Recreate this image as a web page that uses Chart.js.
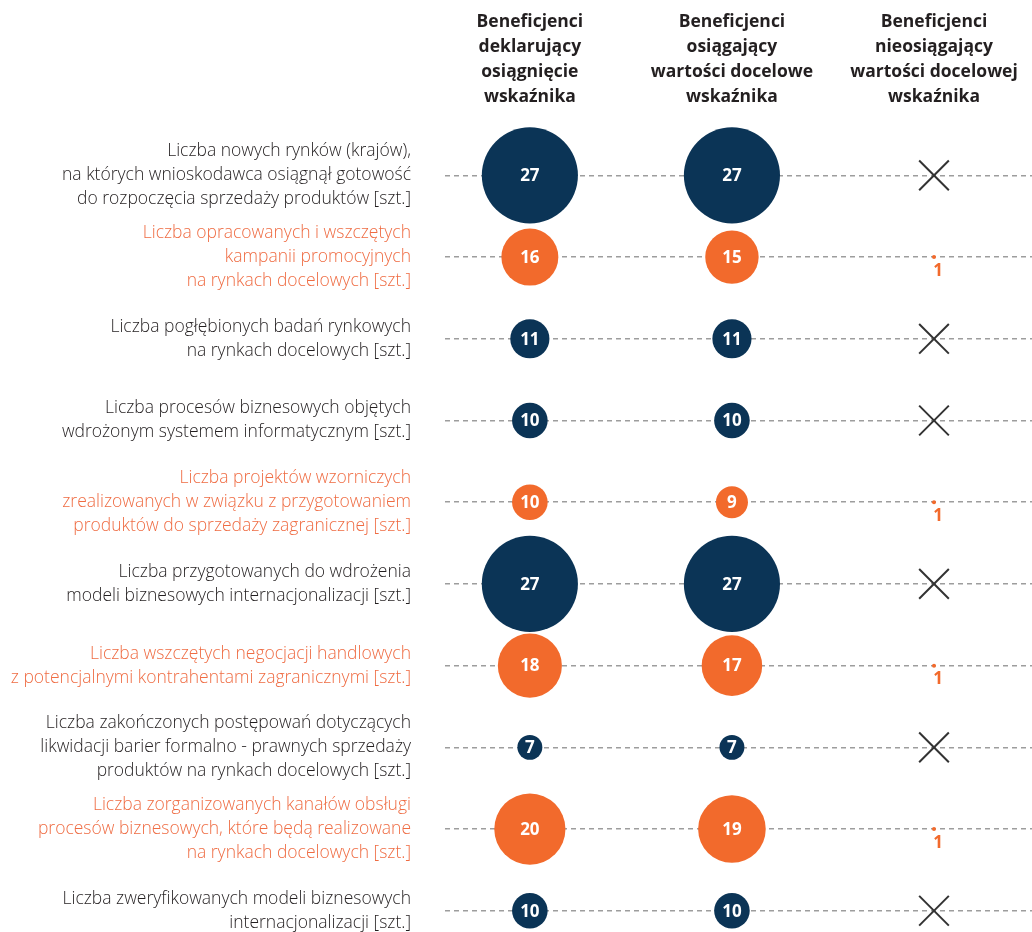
<!DOCTYPE html>
<html>
<head>
<meta charset="utf-8">
<script src="https://cdn.jsdelivr.net/npm/chart.js@4"></script>
<style>
  body { margin: 0; background: #fff; }
</style>
</head>
<body>
<canvas id="chart" width="1032" height="932"></canvas>
<script>
// Row labels (indicators)
var rowLabels = [
  ["Liczba nowych rynków (krajów),", "na których wnioskodawca osiągnął gotowość", "do rozpoczęcia sprzedaży produktów [szt.]"],
  ["Liczba opracowanych i wszczętych", "kampanii promocyjnych", "na rynkach docelowych [szt.]"],
  ["Liczba pogłębionych badań rynkowych", "na rynkach docelowych [szt.]"],
  ["Liczba procesów biznesowych objętych", "wdrożonym systemem informatycznym [szt.]"],
  ["Liczba projektów wzorniczych", "zrealizowanych w związku z przygotowaniem", "produktów do sprzedaży zagranicznej [szt.]"],
  ["Liczba przygotowanych do wdrożenia", "modeli biznesowych internacjonalizacji [szt.]"],
  ["Liczba wszczętych negocjacji handlowych", "z potencjalnymi kontrahentami zagranicznymi [szt.]"],
  ["Liczba zakończonych postępowań dotyczących", "likwidacji barier formalno - prawnych sprzedaży", "produktów na rynkach docelowych [szt.]"],
  ["Liczba zorganizowanych kanałów obsługi", "procesów biznesowych, które będą realizowane", "na rynkach docelowych [szt.]"],
  ["Liczba zweryfikowanych modeli biznesowych", "internacjonalizacji [szt.]"]
];
var highlighted = [false, true, false, false, true, false, true, false, true, false];

// Column headers
var columnLabels = [
  ["Beneficjenci", "deklarujący", "osiągnięcie", "wskaźnika"],
  ["Beneficjenci", "osiągający", "wartości docelowe", "wskaźnika"],
  ["Beneficjenci", "nieosiągający", "wartości docelowej", "wskaźnika"]
];

// Values
var declared = [27, 16, 11, 10, 10, 27, 18, 7, 20, 10];
var achieved = [27, 15, 11, 10, 9, 27, 17, 7, 19, 10];
var notAchieved = [0, 1, 0, 0, 1, 0, 1, 0, 1, 0];

var NAVY = "#0b3456";
var ORANGE = "#f26a2c";
var ORANGE_TEXT = "#ef6c43";
var TEXT = "#231f20";
var RADIUS_PER_UNIT = 1.78;

// bubble type that doesn't reserve extra padding for big bubbles
class FlatBubble extends Chart.BubbleController {
  getMaxOverflow() { return 0; }
}
FlatBubble.id = "flatBubble";
FlatBubble.defaults = Chart.BubbleController.defaults;
FlatBubble.overrides = Chart.BubbleController.overrides;
Chart.register(FlatBubble);

function points(values, col) {
  return values.map(function (v, i) {
    return { x: col, y: i, r: v === 0 ? 21 : Math.max(v * RADIUS_PER_UNIT, 2), v: v };
  });
}

var allCols = [declared, achieved, notAchieved];
var datasets = allCols.map(function (vals, c) {
  return {
    data: points(vals, c),
    backgroundColor: function (ctx) { return highlighted[ctx.dataIndex] ? ORANGE : NAVY; },
    borderColor: function (ctx) {
      var p = ctx.raw;
      return p && p.v === 0 ? "#333333" : "rgba(0,0,0,0)";
    },
    borderWidth: function (ctx) {
      var p = ctx.raw;
      return p && p.v === 0 ? 2 : 0;
    },
    pointStyle: function (ctx) {
      var p = ctx.raw;
      return p && p.v === 0 ? "crossRot" : "circle";
    },
    clip: false
  };
});

// Draw values inside bubbles
var valueLabels = {
  id: "valueLabels",
  afterDatasetsDraw: function (chart) {
    var c = chart.ctx;
    c.save();
    c.textAlign = "center";
    c.textBaseline = "middle";
    c.font = "bold 17px 'Open Sans'";
    chart.data.datasets.forEach(function (ds, di) {
      var meta = chart.getDatasetMeta(di);
      meta.data.forEach(function (el, i) {
        var v = ds.data[i].v;
        if (v === 0) return;
        if (v * RADIUS_PER_UNIT < 8) {
          // tiny bubble: number below
          c.fillStyle = ORANGE;
          c.fillText(String(v), el.x + 4, el.y + 14);
        } else {
          c.fillStyle = "#ffffff";
          c.fillText(String(v), el.x, el.y + 1);
        }
      });
    });
    c.restore();
  }
};

new Chart(document.getElementById("chart"), {
  type: "flatBubble",
  data: { datasets: datasets },
  plugins: [valueLabels],
  options: {
    responsive: false,
    animation: false,
    events: [],
    layout: { padding: 0 },
    plugins: {
      legend: { display: false },
      tooltip: { enabled: false }
    },
    scales: {
      x: {
        type: "linear",
        position: "top",
        min: -0.42,
        max: 2.485,
        afterBuildTicks: function (s) { s.ticks = [{ value: 0 }, { value: 1 }, { value: 2 }]; },
        afterFit: function (s) {
          s.height = 110;
          s.paddingLeft = 0;
          s.paddingRight = 0;
        },
        grid: { display: false, drawTicks: false },
        border: { display: false },
        ticks: {
          autoSkip: false,
          maxRotation: 0,
          padding: 0,
          color: TEXT,
          font: { family: "'Open Sans'", size: 17.5, weight: "bold", lineHeight: 1.43 },
          callback: function (v) { return columnLabels[v]; }
        }
      },
      y: {
        type: "linear",
        reverse: true,
        min: -0.8,
        max: 9.26,
        afterBuildTicks: function (s) {
          s.ticks = rowLabels.map(function (_, i) { return { value: i }; });
        },
        afterFit: function (s) {
          s.width = 445;
          s.paddingTop = 0;
          s.paddingBottom = 0;
        },
        grid: { color: "#9d9d9d", lineWidth: 1.5, drawTicks: false },
        border: { display: false, dash: [5, 4] },
        ticks: {
          autoSkip: false,
          padding: 34,
          color: function (ctx) { return highlighted[ctx.index] ? ORANGE_TEXT : TEXT; },
          font: { family: "'Open Sans'", size: 17.5, weight: 300, lineHeight: 1.37 },
          callback: function (v) { return rowLabels[v]; }
        }
      }
    }
  }
});
</script>
</body>
</html>
